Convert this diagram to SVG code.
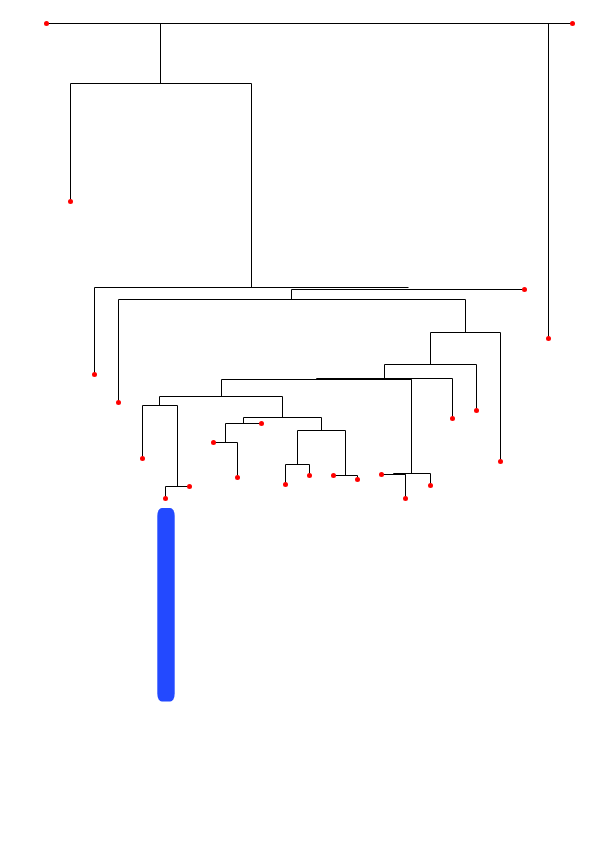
<svg xmlns="http://www.w3.org/2000/svg" width="600" height="852" viewBox="0 0 600 852">
<style>
.c{fill:none;stroke:#000;stroke-width:1}
.t{fill:none;stroke:#000;stroke-width:2}
.d{fill:#ff0000}
</style>
<rect width="600" height="852" fill="#fff"/>
<g transform="translate(0.5,0.5)">
<g id="connectors">
<path class="c" d="M46,23H572 M160,23V83 M548,23V338 M70,83H251 M70,83V201 M251,83V287 M94,287H408 M94,287V374 M291,289H524 M291,289V299 M118,299H465 M118,299V402 M465,299V332 M430,332H500 M500,332V461 M430,332V364 M384,364H476 M476,364V410 M384,364V378 M316,378H452 M452,378V418 M221,379H411 M411,379V473 M393,473H430 M430,473V485 M381,474H405 M405,474V498 M221,379V396 M159,396H282 M159,396V405 M142,405H177 M142,405V458 M177,405V486 M165,486H189 M165,486V498 M282,396V417 M243,417H321 M243,417V423 M225,423H261 M225,423V442 M213,442H237 M237,442V477 M321,417V430 M297,430H345 M297,430V464 M285,464H309 M285,464V484 M309,464V475 M345,430V475 M333,475H357 M357,475V479"/>
<path class="t" d="M316,378.5H411 M393,473.5H405"/>
</g>
<g id="leaf1"><circle class="d" cx="46" cy="23" r="2.5"/></g>
<g id="leaf2"><circle class="d" cx="572" cy="23" r="2.5"/></g>
<g id="leaf3"><circle class="d" cx="548" cy="338" r="2.5"/></g>
<g id="leaf4"><circle class="d" cx="70" cy="201" r="2.5"/></g>
<g id="leaf5"><circle class="d" cx="94" cy="374" r="2.5"/></g>
<g id="leaf6"><circle class="d" cx="118" cy="402" r="2.5"/></g>
<g id="leaf7"><circle class="d" cx="524" cy="289" r="2.5"/></g>
<g id="leaf8"><circle class="d" cx="500" cy="461" r="2.5"/></g>
<g id="leaf9"><circle class="d" cx="476" cy="410" r="2.5"/></g>
<g id="leaf10"><circle class="d" cx="452" cy="418" r="2.5"/></g>
<g id="leaf11"><circle class="d" cx="430" cy="485" r="2.5"/></g>
<g id="leaf12"><circle class="d" cx="381" cy="474" r="2.5"/></g>
<g id="leaf13"><circle class="d" cx="405" cy="498" r="2.5"/></g>
<g id="leaf14"><circle class="d" cx="142" cy="458" r="2.5"/></g>
<g id="leaf15"><circle class="d" cx="189" cy="486" r="2.5"/></g>
<g id="leaf16"><circle class="d" cx="165" cy="498" r="2.5"/></g>
<g id="leaf17"><circle class="d" cx="261" cy="423" r="2.5"/></g>
<g id="leaf18"><circle class="d" cx="213" cy="442" r="2.5"/></g>
<g id="leaf19"><circle class="d" cx="237" cy="477" r="2.5"/></g>
<g id="leaf20"><circle class="d" cx="285" cy="484" r="2.5"/></g>
<g id="leaf21"><circle class="d" cx="309" cy="475" r="2.5"/></g>
<g id="leaf22"><circle class="d" cx="333" cy="475" r="2.5"/></g>
<g id="leaf23"><circle class="d" cx="357" cy="479" r="2.5"/></g>
</g>
<g id="bar"><rect x="157.3" y="508" width="17.4" height="193.5" rx="4.5" ry="8" fill="#2349ff"/></g>
</svg>
